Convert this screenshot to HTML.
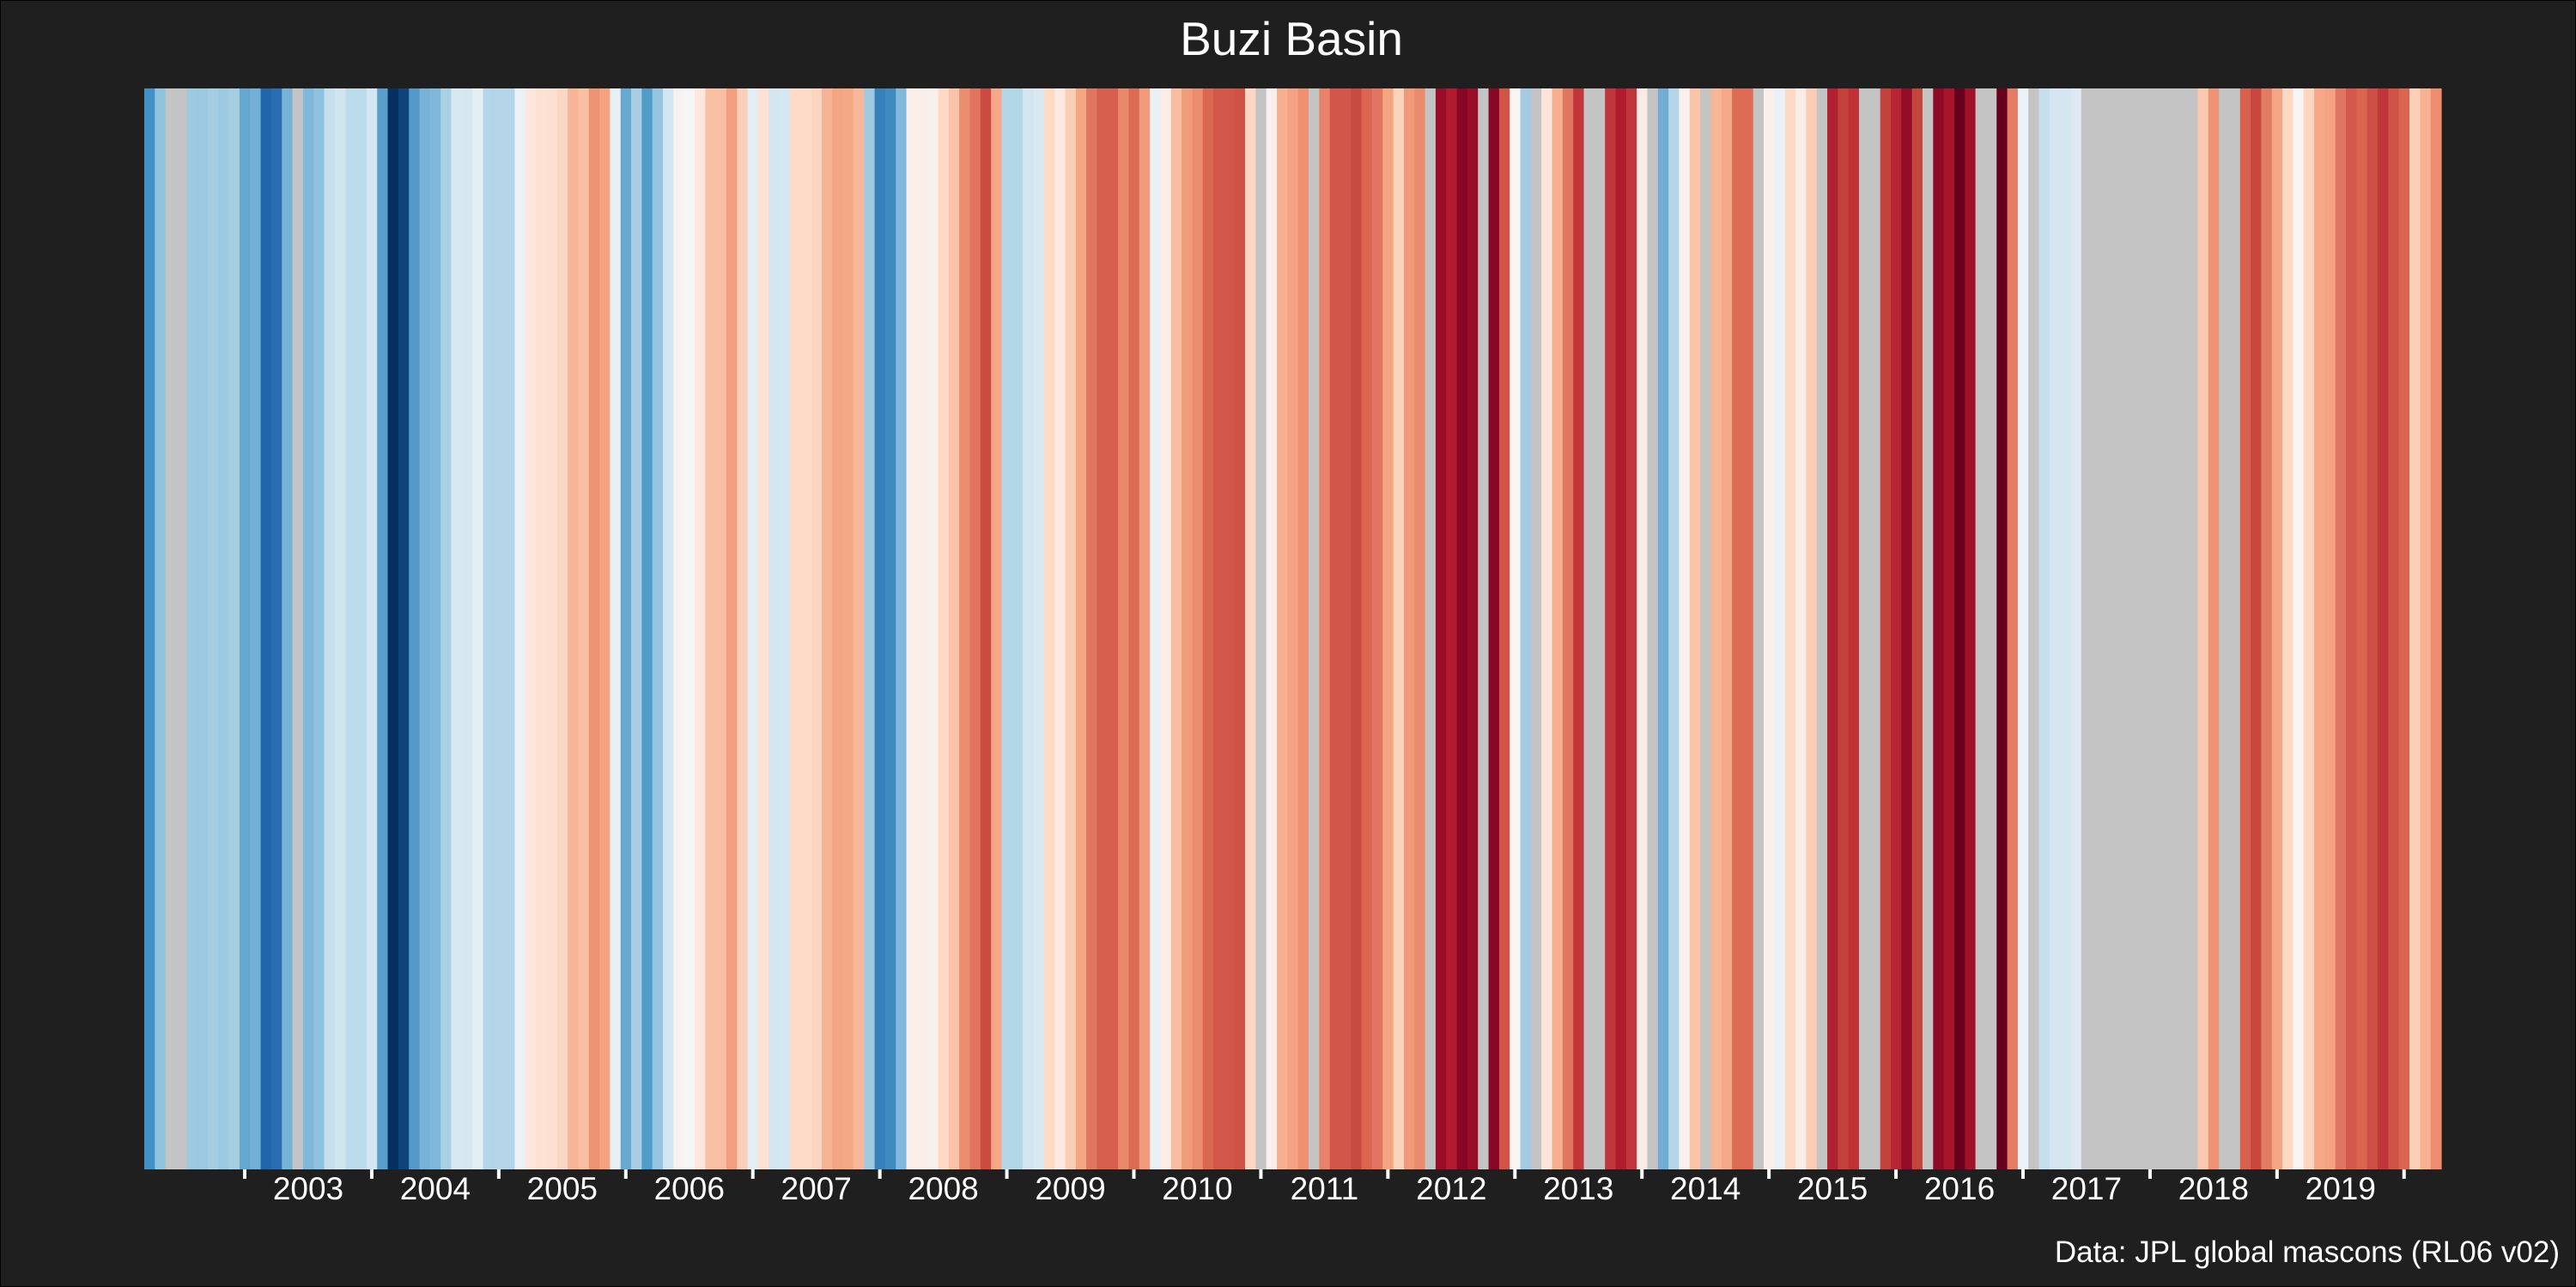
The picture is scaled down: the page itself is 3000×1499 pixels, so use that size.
<!DOCTYPE html>
<html><head><meta charset="utf-8"><style>
html,body{margin:0;padding:0;background:#1f1f1f;}
svg{display:block;font-family:"Liberation Sans",Arial,sans-serif;}
</style></head><body>
<svg id="chart" width="3000" height="1499" viewBox="0 0 3000 1499">
<rect x="0" y="0" width="3000" height="1499" fill="#1f1f1f" stroke="#000" stroke-width="2"/>
<text x="1504" y="64" fill="#fff" font-size="55" text-anchor="middle">Buzi Basin</text>
<g id="stripes"></g>
<g id="xaxis"></g>
<text x="2981" y="1470" fill="#fff" font-size="35" text-anchor="end">Data: JPL global mascons (RL06 v02)</text>
</svg>
<script>
// Monthly stripe colours (RdBu scale of water-storage anomaly), starting ~Apr 2002; "NA" = missing month
const stripeColors = [
"#4390c5","#8fc3de","NA","NA","#9ecae1","#9dc9e0","#a6cee3","#9ecae1","#a6cfe3","#65a8d0",
"#72b0d6","#2166ac","#2a6db0","#77b3d7","NA","#7fb8da","#8fc2de","#c6dfed","#d1e5f0","#bcdbeb",
"#bcdbeb","#d4e6f1","#5a9fcb","#053061","#0f437b","#5599c8","#77b1d5","#80b7d9","#a9d0e4","#d8e8f1",
"#d6e7f0","#e4eef5","#b5d5e8","#b4d4e7","#b4d4e7","#ecf2f6","#fce6dd","#fde1d3","#fde0d1","#fdd7c5",
"#f8b497","#f9bfa3","#ee9275","#f3a380","#e8f0f5","#67a9cf","#a7cee3","#529bc8","#94c6df","#d3e5f0",
"#f7f3f2","#f7f6f6","#fde6dc","#f9c0a4","#f9bea3","#f19f80","#fbcfb9","#e2edf4","#fde2d4","#d3e6f0",
"#d5e7f1","#fddbc8","#fddbc8","#fdd6c2","#f7b396","#f4a583","#f4a886","#f8b79b","#9fcbe1","#3681ba",
"#3f8ac1","#82b9da","#fbefeb","#f8efeb","#f8f0ec","#fdd9c6","#fac3a9","#ec8c6e","#e0735d","#cb4b43",
"#f6a889","#b4d7e8","#b4d7e8","#d3e6f0","#d9e8f1","#fddbc7","#fce9e0","#fbceb7","#f4a582","#e07560",
"#d6604d","#d6604d","#e8896c","#dc6b54","#f09c7b","#ebf0f4","#fcede6","#f9bda1","#f09d7c","#ec8c6f",
"#da6853","#d25849","#d25849","#cf5247","#fdd7c3","NA","#faefed","#f7b08f","#f5a384","#ee9071",
"NA","#e8826a","#d0574a","#d0574a","#c84b41","#dc6552","#e27561","#f4a582","#fcd4bd","#f19a7a",
"#eb8b6e","NA","#990d28","#b01b2e","#880726","#990d28","NA","#880726","#d05547","#f7f6f5",
"#a3cce2","NA","#fde5da","#f7b08f","#e07560","#c0363a","NA","NA","#c0363a","#b01b2e",
"#c0363a","#faebe5","NA","#72aed4","#b4d6e8","#f9f1ee","#fbc3a7","NA","#f9b799","#f6a98a",
"#dd6c55","#dd6c55","NA","#faefeb","#ebf2f7","#fddac7","#f9ede7","#fbccb5","NA","#b2212f",
"#c4423c","#bf3238","NA","NA","#c4423c","#b72432","#920c27","#c4453d","NA","#8e0a26",
"#a8152b","#67001f","#a1122a","NA","NA","#67001f","#e47b65","#ebf2f6","NA","#c6dfec",
"#d2e5f0","#d4e6f0","#dee9f1","NA","NA","NA","NA","NA","NA","NA",
"NA","NA","NA","NA","#fbc8b0","#ee9474","NA","NA","#d9604f","#c8473e",
"#e17b63","#f4a583","#fdd8c5","#f7f4f2","#fdd4bd","#f6a888","#f4a282","#e07560","#d5594a","#db6450",
"#cd4e44","#c0363a","#d0534a","#dc6551","#fccfb7","#f8b395","#ee8d70"
];
const startYear = 2002.209;           // left edge of first stripe (decimal year)
const tickYears = [2003,2004,2005,2006,2007,2008,2009,2010,2011,2012,2013,2014,2015,2016,2017,2018,2019,2020];
const labelYears = [2003,2004,2005,2006,2007,2008,2009,2010,2011,2012,2013,2014,2015,2016,2017,2018,2019];
const NA_COLOR = "#c4c4c4";

const NS = "http://www.w3.org/2000/svg";
const plotL = 168, plotR = 2843, plotT = 103, plotB = 1362;
const endYear = startYear + stripeColors.length / 12;
function xScale(yr){ return plotL + (yr - startYear) / (endYear - startYear) * (plotR - plotL); }

const gS = document.getElementById('stripes');
stripeColors.forEach((c, i) => {
  const x0 = xScale(startYear + i / 12), x1 = xScale(startYear + (i + 1) / 12);
  const r = document.createElementNS(NS, 'rect');
  r.setAttribute('x', x0.toFixed(2));
  r.setAttribute('y', plotT);
  r.setAttribute('width', (x1 - x0 + 0.6).toFixed(2));
  r.setAttribute('height', plotB - plotT);
  r.setAttribute('fill', c === "NA" ? NA_COLOR : c);
  
  
  gS.appendChild(r);
});

const gA = document.getElementById('xaxis');
tickYears.forEach(y => {
  const t = document.createElementNS(NS, 'rect');
  t.setAttribute('x', (xScale(y) - 2).toFixed(2));
  t.setAttribute('y', plotB);
  t.setAttribute('width', 4);
  t.setAttribute('height', 11);
  t.setAttribute('fill', '#fff');
  
  
  gA.appendChild(t);
});
labelYears.forEach(y => {
  const t = document.createElementNS(NS, 'text');
  t.setAttribute('x', xScale(y + 0.5).toFixed(2));
  t.setAttribute('y', 1397);
  t.setAttribute('fill', '#fff');
  t.setAttribute('font-size', '37');
  t.setAttribute('text-anchor', 'middle');
  t.textContent = y;
  
  
  gA.appendChild(t);
});
</script>
</body></html>
